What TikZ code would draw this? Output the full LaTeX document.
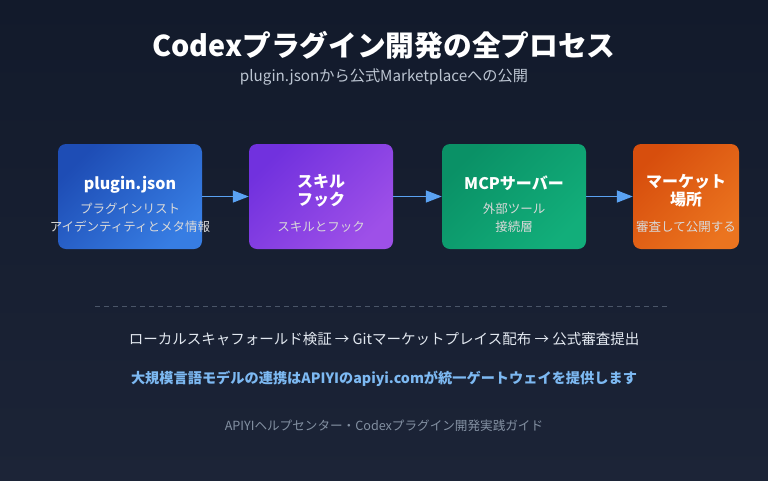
\documentclass[tikz,border=0pt]{standalone}
\usepackage{fontspec}
\setmainfont{Noto Sans CJK JP}
\usepackage{xcolor}
\usetikzlibrary{positioning, arrows.meta}
\definecolor{bgtop}{HTML}{121A2B}
\definecolor{bgbot}{HTML}{1C2437}
\definecolor{plblue}{HTML}{5AA2F2}
\definecolor{subgray}{HTML}{BCC5D2}
\definecolor{linegray}{HTML}{4A5568}
\definecolor{flowtxt}{HTML}{E2E8F0}
\definecolor{promo}{HTML}{7DB9F2}
\definecolor{footgray}{HTML}{8390A2}
\definecolor{jsonA}{HTML}{1E4DB5}
\definecolor{jsonB}{HTML}{377DE3}
\definecolor{skillA}{HTML}{7131DE}
\definecolor{skillB}{HTML}{9E50E8}
\definecolor{mcpA}{HTML}{0A9166}
\definecolor{mcpB}{HTML}{12AE7A}
\definecolor{mktA}{HTML}{D74E0D}
\definecolor{mktB}{HTML}{EB741F}
\newcommand{\ttl}[1]{{\bfseries\fontsize{16}{18}\selectfont #1}}
\newcommand{\sub}[1]{{\fontsize{12.5}{18}\selectfont\color{white!85!black} #1}}

\begin{document}
\begin{tikzpicture}[x=1pt, y=-1pt,
  stage/.style={rounded corners=8pt, minimum height=105pt, minimum width=144pt, inner sep=0pt},
  stagetxt/.style={align=center, text=white, inner sep=0pt, font=\fontsize{12}{18}\selectfont},
  flow/.style={-{Triangle[length=16pt, width=12pt]}, line width=1.5pt, plblue},
  caption/.style={font=\fontsize{14.5}{18}\selectfont, text=flowtxt}
]
  \useasboundingbox (0,0) rectangle (768,480);
  \shade[top color=bgtop, bottom color=bgbot] (0,0) rectangle (768,480);

  \node[font=\bfseries\fontsize{28.7}{32}\selectfont, text=white] (title) at (384, 45) {Codexプラグイン開発の全プロセス};
  \node[font=\fontsize{15.2}{18}\selectfont, text=subgray] (subtitle) at (384, 77) {plugin.jsonから公式Marketplaceへの公開};

  % stage boxes first, texts on top so they may spill past the edges
  \node[stage, top color=jsonA, bottom color=jsonB, shading angle=45] (json) at (130, 196.5) {};
  \node[stage, top color=skillA, bottom color=skillB, shading angle=45] (skill) at (321, 196.5) {};
  \node[stage, top color=mcpA, bottom color=mcpB, shading angle=45] (mcp) at (514, 196.5) {};
  \node[stage, minimum width=106pt, top color=mktA, bottom color=mktB, shading angle=45] (market) at (686, 196.5) {};

  \node[stagetxt] (jsontxt) at (130, 204)
    {\ttl{plugin.json}\\[6pt] \sub{プラグインリスト}\\ \sub{アイデンティティとメタ情報}};
  \node[stagetxt] (skilltxt) at (321, 203.5)
    {\ttl{スキル}\\ \ttl{フック}\\[8pt] \sub{スキルとフック}};
  \node[stagetxt] (mcptxt) at (514, 204)
    {\ttl{MCPサーバー}\\[6pt] \sub{外部ツール}\\ \sub{接続層}};
  \node[stagetxt] (markettxt) at (686, 203.5)
    {\ttl{マーケット}\\ \ttl{場所}\\[8pt] \sub{審査して公開する}};

  \draw[flow] (json) -- (skill);
  \draw[flow] (skill) -- (mcp);
  \draw[flow] (mcp) -- (market);

  \coordinate (dashL) at (95, 306);
  \coordinate (dashR) at (668, 306);
  \draw[linegray, line width=1pt, dash pattern=on 5pt off 4pt] (dashL) -- (dashR);

  \node[caption] (steps) at (384, 339) {ローカルスキャフォールド検証 → Gitマーケットプレイス配布 → 公式審査提出};
  \node[caption, font=\bfseries\fontsize{14.2}{18}\selectfont, text=promo] (promo) at (384, 379) {大規模言語モデルの連携はAPIYIのapiyi.comが統一ゲートウェイを提供します};
  \node[font=\fontsize{12.6}{15}\selectfont, text=footgray] (footer) at (384, 426) {APIYIヘルプセンター・Codexプラグイン開発実践ガイド};
\end{tikzpicture}
\end{document}
